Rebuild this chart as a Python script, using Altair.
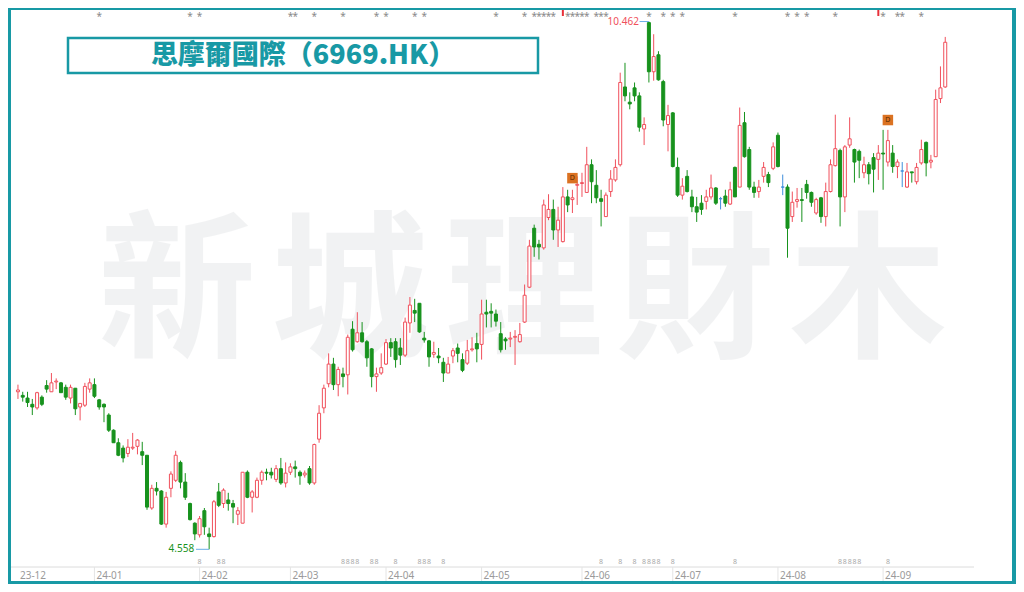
import altair as alt
import pandas as pd

# ---------------- data ----------------
opens = [6.32,6.28,6.25,6.18,6.14,6.26,6.39,6.32,6.43,6.42,
         6.37,6.25,6.36,6.15,6.17,6.35,6.40,6.23,6.18,6.06,
         5.89,5.75,5.69,5.63,5.69,5.71,5.65,5.61,5.02,5.24,
         5.21,4.84,5.24,5.33,5.53,5.31,5.07,4.85,4.72,4.99,
         4.73,4.70,5.20,5.07,5.11,5.07,4.95,4.85,5.42,5.14,
         5.14,5.33,5.42,5.42,5.34,5.46,5.30,5.42,5.48,5.42,
         5.39,5.46,5.30,5.79,6.14,6.41,6.63,6.40,6.52,6.51,
         7.02,6.88,6.98,6.88,6.80,6.49,6.53,6.63,6.87,6.88,
         6.81,6.73,7.09,7.23,7.31,6.92,6.89,6.74,6.72,6.65,
         6.53,6.72,6.81,6.68,6.64,6.79,6.86,6.85,7.21,7.22,
         7.19,6.97,6.91,6.91,6.93,6.88,7.10,7.49,8.15,7.97,
         7.93,8.27,8.36,8.13,8.00,8.50,8.47,8.63,8.65,8.55,
         8.86,8.63,8.48,8.28,8.56,8.69,8.86,9.73,9.56,9.72,
         9.63,9.26,10.45,9.90,10.09,9.79,9.31,9.44,8.83,8.52,
         8.73,8.50,8.39,8.43,8.45,8.50,8.60,8.48,8.51,8.42,
         8.83,8.61,9.33,9.03,8.61,8.56,8.73,8.75,8.82,9.19,
         8.61,8.61,8.28,8.45,8.47,8.64,8.55,8.32,8.49,8.28,
         8.56,8.85,9.02,8.50,9.08,9.03,9.01,8.77,8.86,8.94,
         8.92,8.99,8.89,8.99,8.84,8.79,8.61,8.78,8.67,8.88,
         9.11,8.89,8.95,9.60,9.73]
highs = [6.40,6.32,6.32,6.24,6.32,6.28,6.45,6.53,6.47,6.43,
         6.40,6.40,6.36,6.19,6.42,6.47,6.47,6.24,6.19,6.08,
         5.90,5.80,5.72,5.79,5.86,5.79,5.76,5.61,5.28,5.31,
         5.22,5.20,5.43,5.66,5.55,5.41,5.08,4.86,4.93,5.02,
         4.80,5.11,5.30,5.24,5.19,5.11,5.03,5.42,5.44,5.22,
         5.36,5.44,5.46,5.47,5.50,5.58,5.53,5.52,5.55,5.44,
         5.44,5.49,5.74,6.17,6.40,6.75,6.70,6.60,6.59,6.96,
         7.11,7.21,7.10,6.90,6.81,6.59,6.75,6.91,6.92,6.92,
         6.92,7.15,7.38,7.36,7.31,6.99,6.90,6.88,6.81,6.70,
         6.71,6.81,6.86,6.75,6.90,6.93,6.98,7.35,7.35,7.31,
         7.24,7.10,6.93,6.99,7.01,7.09,7.52,8.02,8.19,8.02,
         8.47,8.53,8.47,8.39,8.61,8.58,8.58,8.73,8.77,9.06,
         8.92,8.80,8.58,8.55,8.80,8.92,9.89,10.00,9.67,9.78,
         9.67,9.39,10.462,10.32,10.13,9.81,9.53,9.45,8.94,8.71,
         8.80,8.58,8.50,8.52,8.58,8.75,8.61,8.50,8.58,8.67,
         8.84,9.50,9.45,9.06,8.67,8.69,8.89,8.78,9.11,9.22,
         8.75,8.64,8.56,8.60,8.60,8.69,8.56,8.49,8.50,8.66,
         8.92,9.42,9.04,9.08,9.39,9.04,9.03,8.95,8.89,8.99,
         9.08,9.25,9.25,9.08,8.92,8.89,8.88,8.78,8.88,9.14,
         9.12,8.97,9.70,9.96,10.29]
lows = [6.24,6.21,6.15,6.06,6.12,6.16,6.31,6.32,6.35,6.31,
        6.23,6.19,6.06,6.00,6.15,6.31,6.25,6.12,5.98,5.87,
        5.75,5.60,5.53,5.59,5.67,5.62,5.50,5.00,5.00,5.16,
        4.83,4.80,5.14,5.31,5.24,5.11,4.88,4.66,4.69,4.72,
        4.558,4.69,5.03,5.02,4.99,4.85,4.83,4.85,5.13,4.97,
        5.13,5.28,5.33,5.35,5.31,5.28,5.25,5.39,5.36,5.28,
        5.36,5.28,5.28,5.75,6.08,6.37,6.34,6.27,6.37,6.29,
        6.77,6.87,6.87,6.60,6.37,6.32,6.51,6.62,6.71,6.59,
        6.62,6.71,6.98,7.10,6.98,6.87,6.60,6.70,6.64,6.43,
        6.53,6.64,6.65,6.54,6.62,6.77,6.65,6.68,7.04,7.04,
        7.05,6.76,6.79,6.82,6.62,6.87,7.09,7.48,7.83,7.80,
        7.91,8.24,8.02,7.94,7.99,8.33,8.32,8.41,8.50,8.55,
        8.43,8.43,8.17,8.28,8.50,8.67,8.84,9.57,9.48,9.57,
        9.23,9.08,9.78,9.80,9.80,9.29,9.01,8.83,8.50,8.47,
        8.55,8.33,8.22,8.30,8.36,8.47,8.41,8.36,8.39,8.41,
        8.50,8.61,8.94,8.58,8.49,8.49,8.66,8.61,8.80,8.83,
        8.52,7.82,8.22,8.38,8.22,8.48,8.39,8.30,8.21,8.17,
        8.55,8.84,8.17,8.33,9.05,8.66,8.71,8.71,8.64,8.55,
        8.69,8.58,8.84,8.77,8.71,8.61,8.60,8.66,8.64,8.86,
        8.73,8.82,8.95,9.55,9.72]
closes = [6.34,6.26,6.20,6.15,6.31,6.18,6.35,6.42,6.44,6.31,
          6.26,6.37,6.13,6.19,6.38,6.42,6.27,6.15,6.15,5.89,
          5.75,5.61,5.58,5.70,5.70,5.78,5.61,5.03,5.24,5.21,
          4.84,5.14,5.40,5.61,5.31,5.14,4.89,4.73,4.90,4.81,
          4.70,5.09,5.05,5.22,5.07,5.03,4.99,5.42,5.14,5.20,
          5.33,5.42,5.41,5.39,5.46,5.30,5.41,5.48,5.46,5.38,
          5.41,5.30,5.73,6.08,6.36,6.63,6.40,6.57,6.49,6.93,
          6.79,6.98,6.88,6.70,6.49,6.52,6.59,6.87,6.81,6.68,
          6.73,7.10,7.29,7.20,6.99,6.90,6.71,6.76,6.70,6.53,
          6.63,6.78,6.75,6.56,6.78,6.80,6.80,7.19,7.19,7.20,
          7.11,6.79,6.89,6.92,6.94,6.96,7.40,7.95,7.94,7.94,
          8.41,8.36,8.13,8.24,8.50,8.41,8.49,8.64,8.66,8.86,
          8.67,8.49,8.45,8.52,8.70,8.83,9.78,9.63,9.54,9.63,
          9.28,9.31,9.90,10.07,9.81,9.36,9.41,8.84,8.52,8.62,
          8.56,8.39,8.33,8.36,8.50,8.60,8.43,8.48,8.43,8.58,
          8.50,9.30,8.95,8.61,8.55,8.61,8.83,8.66,9.06,8.84,
          8.61,8.15,8.44,8.47,8.46,8.55,8.44,8.47,8.28,8.56,
          8.86,9.04,8.50,9.06,9.15,8.89,8.91,8.86,8.76,8.81,
          8.99,8.98,9.13,8.84,8.89,8.79,8.78,8.77,8.83,9.03,
          8.88,8.91,9.59,9.72,10.23]

month_idx = [0, 16, 38, 57, 77, 97, 118, 137, 159, 181]
month_lbl = ["23-12", "24-01", "24-02", "24-03", "24-04", "24-05",
             "24-06", "24-07", "24-08", "24-09"]
y_ticks = [10.462, 9.478, 8.494, 7.510, 6.526, 5.542, 4.558]

star_idx = [17, 36, 38, 57, 58, 62, 68, 75, 77, 83, 85, 100, 106, 108, 109,
            110, 111, 112, 115, 116, 117, 118, 119, 121, 122, 123, 132, 135,
            137, 139, 150, 161, 163, 165, 171, 181, 184, 185, 189]
red_flag_idx = [114, 180]
bottom_idx = [38, 42, 43, 68, 69, 70, 71, 74, 75, 79, 84, 85, 86, 89, 122,
              126, 129, 131, 132, 133, 134, 137, 150, 172, 173, 174, 175,
              176, 182]
d_idx = [116, 182]
d_price = [8.71, 9.36]
hi_idx, hi_val = 132, 10.462
lo_idx, lo_val = 40, 4.558
title_text = "思摩爾國際（6969.HK）"
watermark = ["新", "城", "理", "財", "木"]

# ---------------- build ----------------
RED = "#F0505C"
GREEN = "#17921D"
BLUE = "#3F8FDC"
TEAL = "#1899A5"
GRID = "#e4e4e4"
FONT = "Noto Sans"
CJK = "Noto Sans CJK TC"
W, H = 963, 557

dirs = ["up" if c > o else ("down" if c < o else "flat") for o, c in zip(opens, closes)]
df = pd.DataFrame({"idx": list(range(len(opens))), "open": opens, "high": highs,
                   "low": lows, "close": closes, "dir": dirs})
df["blo"] = df[["open", "close"]].min(axis=1)
df["bhi"] = df[["open", "close"]].max(axis=1)

xs = alt.Scale(domain=[-0.41, 198.97], nice=False, zero=False)
ys = alt.Scale(domain=[4.360, 10.591], nice=False, zero=False)
dom = ["up", "down", "flat"]

x_axis = alt.Axis(values=month_idx[1:], title=None, grid=True, gridColor=GRID,
                  labels=False, ticks=False, domain=False)
y_axis = alt.Axis(orient="right", values=y_ticks, format=".3f", title=None, grid=True,
                  gridColor="#cfcfcf", gridDash=[2, 2], ticks=False, labelPadding=6,
                  labelAlign="left", labelColor="#9a9a9a", labelFontSize=10,
                  labelFont=FONT, domainColor="#dcdcdc")

one = pd.DataFrame({"k": [0]})

def strip(x0, x1, y0, y1):
    return alt.Chart(one).mark_rect(color=TEAL).encode(
        x=alt.value(x0), x2=alt.value(x1), y=alt.value(y0), y2=alt.value(y1))

frame = [strip(-3, 0, -2, 574), strip(-3, W + 42, -2, 0),
         strip(1001, W + 42, -2, 574), strip(-3, W + 42, 571, 574)]

wm_x = [166, 339, 513, 684, 857]
wm_layers = [alt.Chart(one).mark_text(text=ch, font=CJK, fontSize=158, fontWeight="bold",
                                      color="#203040", opacity=0.055, align="center",
                                      baseline="middle").encode(x=alt.value(px), y=alt.value(288))
             for ch, px in zip(watermark, wm_x)]

title_box = alt.Chart(one).mark_rect(fill="white", stroke=TEAL, strokeWidth=2.5).encode(
    x=alt.value(57), x2=alt.value(527), y=alt.value(28), y2=alt.value(63))
title = alt.Chart(one).mark_text(text=title_text, font=CJK, fontSize=27, fontWeight=900,
                                 color=TEAL, align="center", baseline="middle").encode(
    x=alt.value(292), y=alt.value(46))

# bottom axis: base line, extended ticks, labels
x_domain = alt.Chart(one).mark_rule(color="#dcdcdc").encode(
    x=alt.value(0), x2=alt.value(W), y=alt.value(H))
mdf = pd.DataFrame({"idx": month_idx, "lbl": month_lbl})
x_ticks = alt.Chart(mdf[mdf.idx > 0]).mark_rule(color=GRID).encode(
    x=alt.X("idx:Q", scale=xs, axis=None), y=alt.value(H), y2=alt.value(571))
x_labels = alt.Chart(mdf).mark_text(align="left", dx=2, baseline="middle", fontSize=10,
                                    color="#9a9a9a", font=FONT).encode(
    x=alt.X("idx:Q", scale=xs, axis=None), y=alt.value(H + 9), text="lbl:N")

base = alt.Chart(df)
wick = base.mark_rule(strokeWidth=1).encode(
    x=alt.X("idx:Q", scale=xs, axis=x_axis),
    y=alt.Y("low:Q", scale=ys, axis=y_axis),
    y2="high:Q",
    color=alt.Color("dir:N", scale=alt.Scale(domain=dom, range=[RED, GREEN, BLUE]), legend=None))
body = base.mark_bar(size=3, strokeWidth=1).encode(
    x=alt.X("idx:Q", scale=xs, axis=None),
    y=alt.Y("blo:Q", scale=ys, axis=None),
    y2="bhi:Q",
    fill=alt.Fill("dir:N", scale=alt.Scale(domain=dom, range=["white", GREEN, BLUE]), legend=None),
    stroke=alt.Stroke("dir:N", scale=alt.Scale(domain=dom, range=[RED, GREEN, BLUE]), legend=None))

stars = alt.Chart(pd.DataFrame({"idx": star_idx})).mark_text(
    text="*", fontSize=10, color="#8a8a8a", font=FONT, baseline="middle").encode(
    x=alt.X("idx:Q", scale=xs, axis=None), y=alt.value(7))
flags = alt.Chart(pd.DataFrame({"idx": red_flag_idx})).mark_bar(color="#E8303A", size=2).encode(
    x=alt.X("idx:Q", scale=xs, axis=None), y=alt.value(0), y2=alt.value(6))
bottoms = alt.Chart(pd.DataFrame({"idx": bottom_idx})).mark_text(
    text="8", fontSize=7, color="#a8a8a8", font=FONT, baseline="middle").encode(
    x=alt.X("idx:Q", scale=xs, axis=None), y=alt.value(552))

dbox = alt.Chart(pd.DataFrame({"idx": d_idx, "price": d_price}))
dsq = dbox.mark_square(size=110, color="#DB7222", opacity=1).encode(
    x=alt.X("idx:Q", scale=xs, axis=None), y=alt.Y("price:Q", scale=ys, axis=None))
dtx = dbox.mark_text(text="D", fontSize=7, color="#5a2a00", font=FONT, baseline="middle").encode(
    x=alt.X("idx:Q", scale=xs, axis=None), y=alt.Y("price:Q", scale=ys, axis=None))

ext = pd.DataFrame({"idx": [hi_idx, lo_idx], "val": [hi_val, lo_val],
                    "kind": ["hi", "lo"]})
ext["x0"] = ext["idx"] - [1.95, 2.75]
ext_rule = alt.Chart(ext).mark_rule(color="#6AAEE6", strokeWidth=1).encode(
    x=alt.X("x0:Q", scale=xs, axis=None), x2="idx:Q",
    y=alt.Y("val:Q", scale=ys, axis=None))
hi_txt = alt.Chart(ext[ext.kind == "hi"]).mark_text(
    align="right", dx=-10, fontSize=10, color=RED, font=FONT, baseline="middle").encode(
    x=alt.X("idx:Q", scale=xs, axis=None), y=alt.Y("val:Q", scale=ys, axis=None),
    text=alt.Text("val:Q", format=".3f"))
lo_txt = alt.Chart(ext[ext.kind == "lo"]).mark_text(
    align="right", dx=-15, fontSize=10, color=GREEN, font=FONT, baseline="middle").encode(
    x=alt.X("idx:Q", scale=xs, axis=None), y=alt.Y("val:Q", scale=ys, axis=None),
    text=alt.Text("val:Q", format=".3f"))

chart = alt.layer(
    *frame, *wm_layers, x_domain, x_ticks, x_labels, title_box, title, wick, body,
    stars, flags, bottoms, dsq, dtx, ext_rule, hi_txt, lo_txt
).properties(
    width=W, height=H,
    autosize=alt.AutoSizeParams(type="none"),
    padding={"left": 3, "top": 2, "right": 42, "bottom": 17},
).configure(background="white").configure_view(stroke=None)

chart.save("out.html", embed_options={"renderer": "svg", "actions": False})
